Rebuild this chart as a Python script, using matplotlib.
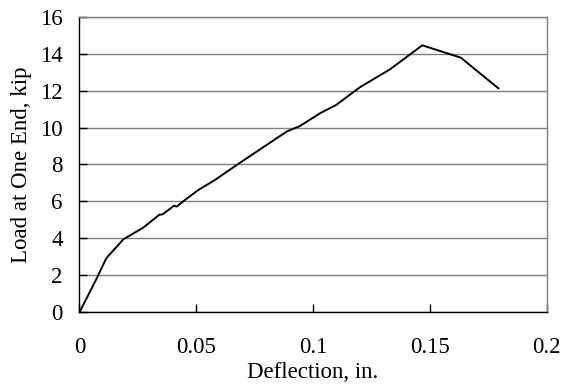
import matplotlib
matplotlib.use("Agg")
import matplotlib.pyplot as plt

# deflection (in.) vs load at one end (kip)
deflection = [0.0, 0.0074, 0.0113, 0.0120, 0.0188, 0.0273, 0.0342, 0.0356, 0.0405,
              0.0416, 0.0452, 0.0509, 0.0580, 0.0673, 0.0887, 0.0944, 0.1030,
              0.1099, 0.1201, 0.1330, 0.1468, 0.1633, 0.1794]
load = [0.0, 1.84, 2.88, 3.0, 3.95, 4.58, 5.28, 5.30, 5.77,
        5.72, 6.08, 6.62, 7.16, 7.97, 9.78, 10.08, 10.77,
        11.22, 12.18, 13.15, 14.45, 13.78, 12.12]

x_ticks = [0, 0.05, 0.1, 0.15, 0.2]
x_labels = ["0", "0.05", "0.1", "0.15", "0.2"]
y_ticks = [0, 2, 4, 6, 8, 10, 12, 14, 16]

plt.rcParams["font.family"] = ["Liberation Serif", "DejaVu Serif"]
plt.rcParams["font.size"] = 16.5

fig = plt.figure(figsize=(5.63, 3.89), dpi=100)
ax = fig.add_axes([0.1412, 0.1972, 0.8295, 0.760])

ax.plot(deflection, load, color="black", linewidth=1.4, zorder=3)

ax.set_xlim(0, 0.2)
ax.set_ylim(0, 16)
ax.set_xticks(x_ticks)
ax.set_xticklabels(x_labels)
ax.set_yticks(y_ticks)

ax.yaxis.grid(True, color="#7f7f7f", linewidth=1.0)
ax.set_axisbelow(True)

ax.tick_params(axis="x", direction="in", length=6, width=1, pad=18, colors="black")
ax.tick_params(axis="y", direction="in", length=6, width=1, pad=12, colors="black")

for s in ["top", "right"]:
    ax.spines[s].set_color("#7f7f7f")
    ax.spines[s].set_linewidth(1.0)
for s in ["left", "bottom"]:
    ax.spines[s].set_color("black")
    ax.spines[s].set_linewidth(1.0)

ax.set_xlabel("Deflection, in.", labelpad=3)
ax.set_ylabel("Load at One End, kip", labelpad=6)

fig.savefig("out.png", dpi=100)
